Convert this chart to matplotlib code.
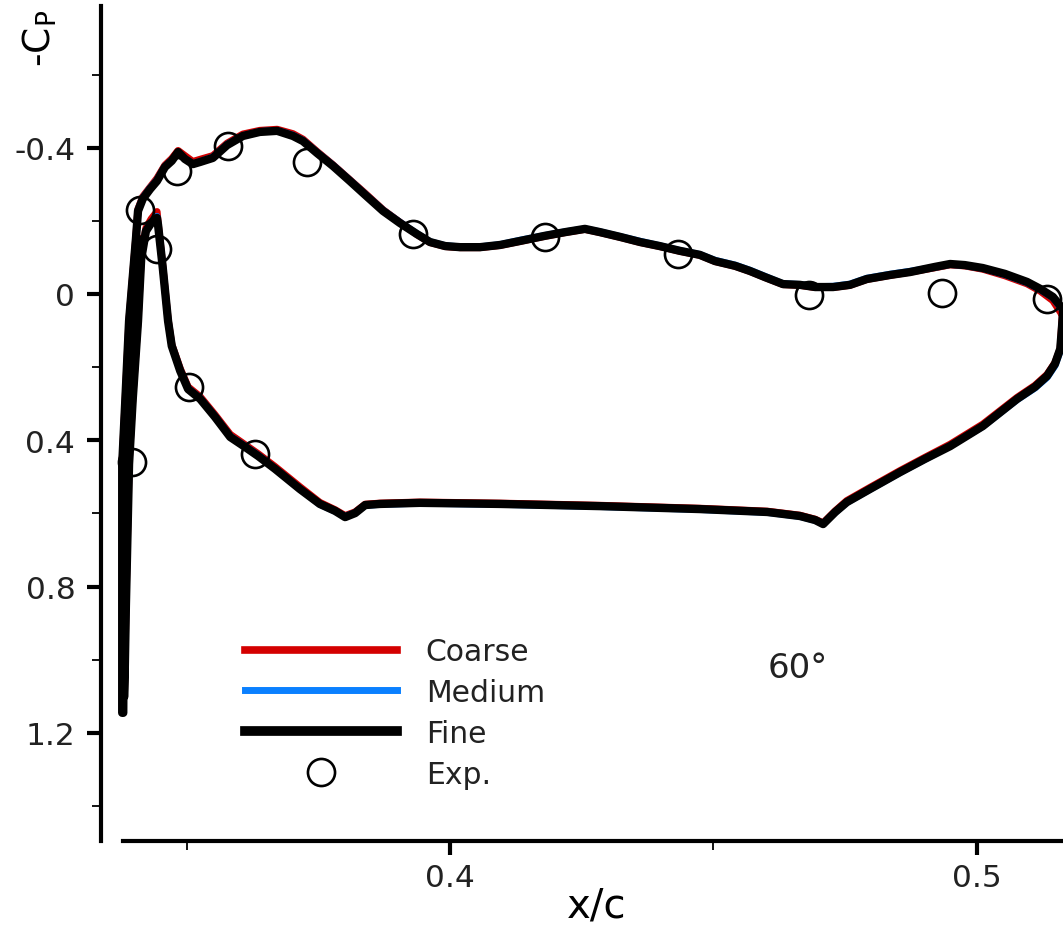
import matplotlib
matplotlib.use("Agg")
import matplotlib.pyplot as plt
from matplotlib.lines import Line2D
from matplotlib.ticker import FixedLocator

plt.rcParams['font.family'] = ['DejaVu Sans']
plt.rcParams['axes.unicode_minus'] = False

# ---------------- data ----------------
# shared x/c stations along the CFD curve (upper TE -> LE -> stagnation spike -> lower -> TE)
x_cfd = [0.5163, 0.5144, 0.5120, 0.5095, 0.5053, 0.5011, 0.4977, 0.4949, 0.4920, 0.4873,
         0.4835, 0.4791, 0.4759, 0.4727, 0.4693, 0.4664, 0.4632, 0.4598, 0.4569, 0.4541,
         0.4503, 0.4474, 0.4436, 0.4398, 0.4361, 0.4323, 0.4285, 0.4256, 0.4218, 0.4180,
         0.4133, 0.4095, 0.4057, 0.4019, 0.3991, 0.3962, 0.3937, 0.3905, 0.3873, 0.3839,
         0.3810, 0.3778, 0.3748, 0.3721, 0.3702, 0.3672, 0.3639, 0.3607, 0.3577, 0.3550,
         0.3526, 0.3512, 0.3497, 0.3484, 0.3472, 0.3459, 0.3444, 0.3431, 0.3417, 0.3408,
         # stagnation spike (several passes)
         0.3404, 0.3391, 0.3384, 0.3378, 0.3378, 0.3378,
         0.3380, 0.3381, 0.3384, 0.3397, 0.3408,
         0.3410, 0.3400, 0.3387, 0.3383, 0.3381,
         0.3382, 0.3385, 0.3391, 0.3398, 0.3408, 0.3414, 0.3423, 0.3433, 0.3444,
         # lower surface
         0.3446, 0.3455, 0.3465, 0.3472, 0.3488, 0.3503, 0.3526, 0.3554, 0.3583, 0.3611,
         0.3636, 0.3668, 0.3715, 0.3753, 0.3782, 0.3801, 0.3820, 0.3839, 0.3867, 0.3943,
         0.4095, 0.4285, 0.4474, 0.4602, 0.4664, 0.4693, 0.4708, 0.4731, 0.4753, 0.4797,
         0.4854, 0.4901, 0.4949, 0.5011, 0.5076, 0.5110, 0.5133, 0.5148, 0.5158, 0.5161,
         0.5163]

cp_fine = [0.041, 0.008, -0.014, -0.033, -0.055, -0.071, -0.079, -0.082, -0.074, -0.060,
           -0.052, -0.041, -0.025, -0.019, -0.019, -0.025, -0.027, -0.046, -0.063, -0.077,
           -0.090, -0.107, -0.118, -0.131, -0.142, -0.156, -0.169, -0.178, -0.169, -0.159,
           -0.145, -0.134, -0.128, -0.128, -0.131, -0.142, -0.164, -0.194, -0.227, -0.271,
           -0.309, -0.350, -0.385, -0.418, -0.432, -0.446, -0.443, -0.432, -0.407, -0.372,
           -0.361, -0.355, -0.369, -0.388, -0.364, -0.347, -0.309, -0.287, -0.260, -0.227,
           -0.150, 0.074, 0.287, 0.465, 0.853, 1.145,
           1.145, 0.853, 0.465, 0.074, -0.150,
           -0.120, 0.074, 0.465, 0.853, 1.100,
           1.100, 0.853, 0.465, 0.287, 0.074, -0.096, -0.172, -0.194, -0.208,
           -0.189, -0.071, 0.074, 0.142, 0.210, 0.260, 0.287, 0.336, 0.391, 0.418,
           0.443, 0.478, 0.533, 0.574, 0.593, 0.610, 0.599, 0.577, 0.574, 0.571,
           0.574, 0.580, 0.588, 0.596, 0.607, 0.618, 0.629, 0.596, 0.569, 0.533,
           0.487, 0.451, 0.416, 0.361, 0.287, 0.254, 0.224, 0.191, 0.150, 0.096,
           0.055]

cp_medium = [0.045, 0.010, -0.012, -0.031, -0.053, -0.070, -0.078, -0.081, -0.073, -0.062,
             -0.054, -0.043, -0.027, -0.021, -0.020, -0.026, -0.028, -0.048, -0.065, -0.079,
             -0.092, -0.108, -0.119, -0.132, -0.144, -0.157, -0.170, -0.178, -0.170, -0.160,
             -0.147, -0.135, -0.129, -0.129, -0.132, -0.143, -0.165, -0.196, -0.229, -0.273,
             -0.311, -0.352, -0.387, -0.420, -0.434, -0.447, -0.444, -0.433, -0.409, -0.374,
             -0.362, -0.356, -0.370, -0.386, -0.366, -0.349, -0.312, -0.290, -0.263, -0.230,
             -0.152, 0.072, 0.285, 0.463, 0.851, 1.143,
             1.143, 0.851, 0.463, 0.072, -0.152,
             -0.122, 0.072, 0.463, 0.851, 1.098,
             1.098, 0.851, 0.463, 0.285, 0.072, -0.098, -0.174, -0.196, -0.212,
             -0.191, -0.073, 0.072, 0.140, 0.208, 0.258, 0.285, 0.334, 0.389, 0.416,
             0.441, 0.477, 0.532, 0.575, 0.594, 0.608, 0.598, 0.578, 0.575, 0.572,
             0.575, 0.581, 0.589, 0.597, 0.608, 0.619, 0.627, 0.597, 0.570, 0.534,
             0.488, 0.452, 0.415, 0.362, 0.289, 0.257, 0.228, 0.196, 0.155, 0.100,
             0.060]

cp_coarse = [0.060, 0.018, -0.008, -0.028, -0.050, -0.068, -0.077, -0.080, -0.072, -0.060,
             -0.051, -0.040, -0.024, -0.018, -0.018, -0.024, -0.026, -0.045, -0.062, -0.076,
             -0.089, -0.106, -0.117, -0.130, -0.141, -0.155, -0.168, -0.177, -0.168, -0.158,
             -0.144, -0.133, -0.127, -0.127, -0.130, -0.141, -0.163, -0.196, -0.230, -0.275,
             -0.312, -0.353, -0.389, -0.423, -0.438, -0.450, -0.447, -0.437, -0.412, -0.378,
             -0.368, -0.362, -0.378, -0.392, -0.370, -0.352, -0.316, -0.292, -0.266, -0.232,
             -0.155, 0.070, 0.283, 0.461, 0.849, 1.140,
             1.140, 0.849, 0.461, 0.070, -0.155,
             -0.125, 0.070, 0.461, 0.849, 1.095,
             1.095, 0.849, 0.461, 0.283, 0.070, -0.100, -0.180, -0.205, -0.225,
             -0.195, -0.075, 0.070, 0.138, 0.204, 0.254, 0.281, 0.330, 0.384, 0.412,
             0.437, 0.472, 0.527, 0.570, 0.590, 0.606, 0.596, 0.575, 0.572, 0.569,
             0.572, 0.578, 0.586, 0.594, 0.605, 0.616, 0.626, 0.593, 0.565, 0.529,
             0.483, 0.447, 0.411, 0.356, 0.283, 0.250, 0.220, 0.188, 0.150, 0.080,
             0.040]

x_exp = [0.3412, 0.3444, 0.3482, 0.3579, 0.3729, 0.3930, 0.4180, 0.4433, 0.4681, 0.4934,
         0.5133, 0.3397, 0.3505, 0.3630]
cp_exp = [-0.230, -0.123, -0.336, -0.405, -0.361, -0.164, -0.156, -0.109, 0.003, -0.003,
          0.014, 0.459, 0.254, 0.437]

labels = ["Coarse", "Medium", "Fine", "Exp."]
x_major = [0.4, 0.5]
x_major_labels = ["0.4", "0.5"]
x_minor = [0.35, 0.45]
y_major = [-0.4, 0.0, 0.4, 0.8, 1.2]
y_major_labels = ["-0.4", "0", "0.4", "0.8", "1.2"]
y_minor = [-0.6, -0.2, 0.2, 0.6, 1.0, 1.4]
angle_text = "60\u00b0"

# ---------------- figure ----------------
W, H = 1063, 928
fig = plt.figure(figsize=(W / 100, H / 100), dpi=100)
ax = fig.add_axes([123 / W, 86 / H, 940 / W, 835 / H])

c_red = "#D40000"
c_blue = "#0A80FF"

ax.plot(x_cfd, cp_coarse, color=c_red, lw=5.2, clip_on=False, solid_joinstyle='round')
ax.plot(x_cfd, cp_medium, color=c_blue, lw=5.0, clip_on=False, solid_joinstyle='round')
ax.plot(x_cfd, cp_fine, color="black", lw=6.0, clip_on=False, solid_joinstyle='round')
ax.plot(x_exp, cp_exp, ls='none', marker='o', ms=19.5, mfc='none', mec='black',
        mew=1.9, clip_on=False)

ax.set_xlim(0.33795, 0.51632)
ax.set_ylim(1.4954, -0.7873)

for s in ['top', 'right']:
    ax.spines[s].set_visible(False)
ax.spines['left'].set_position(('outward', 15.8))
ax.spines['left'].set_linewidth(3.0)
ax.spines['bottom'].set_linewidth(3.0)

ax.xaxis.set_major_locator(FixedLocator(x_major))
ax.set_xticklabels(x_major_labels)
ax.xaxis.set_minor_locator(FixedLocator(x_minor))
ax.yaxis.set_major_locator(FixedLocator(y_major))
ax.set_yticklabels(y_major_labels)
ax.yaxis.set_minor_locator(FixedLocator(y_minor))

ax.tick_params(axis='both', which='major', direction='out', length=10, width=3,
               labelsize=22.5, colors='black')
ax.tick_params(axis='both', which='minor', direction='out', length=6.5, width=1.3)
ax.tick_params(axis='y', which='major', pad=8.5)
ax.tick_params(axis='x', which='major', pad=5.5)
for t in ax.get_xticklabels() + ax.get_yticklabels():
    t.set_color('#222222')

fig.text(597 / W, 1 - 918 / H, "x/c", fontsize=29, ha='center', va='baseline')

fig.text(40 / W, 1 - 38 / H, "-C$_\\mathregular{P}$", rotation=90, fontsize=27,
         ha='center', va='center')

fig.text(768 / W, 1 - 678 / H, angle_text, fontsize=24.5, ha='left', va='baseline',
         color='#222222')

handles = [Line2D([], [], color=c_red, lw=5.5),
           Line2D([], [], color=c_blue, lw=5.0),
           Line2D([], [], color='black', lw=7.0),
           Line2D([], [], ls='none', marker='o', ms=19.5, mfc='none', mec='black', mew=1.9)]
leg = ax.legend(handles, labels, loc='upper left', bbox_to_anchor=(245 / W, 1 - 638 / H),
                bbox_transform=fig.transFigure, frameon=False, fontsize=21.5,
                handlelength=5.1, handletextpad=0.95, labelspacing=0.4,
                borderpad=0, borderaxespad=0, numpoints=1)
for t in leg.get_texts():
    t.set_color('#222222')

fig.savefig("out.png", dpi=100)
